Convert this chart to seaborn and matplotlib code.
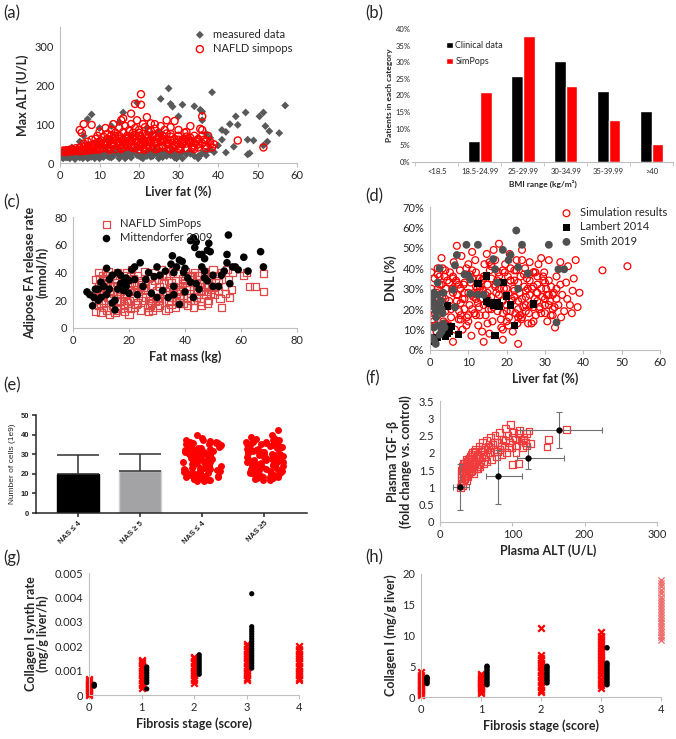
import numpy as np
import pandas as pd
import matplotlib
matplotlib.use('Agg')
import matplotlib.pyplot as plt
import seaborn as sns
from matplotlib.ticker import PercentFormatter

# ---- (a) max ALT vs liver fat ----
a_meas_x = [0.3, 0.5, 0.8, 1, 1.2, 1.5, 2, 2.2, 2.5, 3,
            3.3, 4, 4.5, 5, 5.5, 6, 6.5, 7, 7.5, 8,
            9, 9.5, 10, 11, 11.5, 12, 13, 13.5, 14, 15,
            15.5, 16, 17, 17.5, 18, 19, 19.5, 20, 21, 22,
            22.5, 23, 24, 25, 25.5, 26, 27, 28, 28.5, 29,
            30, 31, 32, 33, 34, 35, 36, 37, 38, 39, 40,
            0.5, 1.5, 2.8, 3.8, 4.8, 5.8, 6.8, 7.8, 8.8, 10.5,
            12.5, 14.5, 16.5, 18.5, 20.5, 23.5, 26.5, 29.5, 32.5, 35.5,
            1, 2, 3, 4, 5, 6, 7, 8, 9, 10,
            11, 12, 13, 14, 15, 16, 17, 18, 19, 20,
            21, 22, 23, 24, 25, 26, 27, 28, 29, 30,
            31, 33, 35, 37,
            3, 5, 6, 7, 8, 10, 12, 13, 15, 16,
            18, 19.5, 21, 22, 23, 25, 25.5, 27.5, 28, 28.5,
            30, 31, 32, 34, 35.5, 36, 36, 37, 38.5, 38,
            41, 41, 42, 42, 43, 44, 44.5, 45, 47, 47.5,
            47.5, 48, 49, 50.5, 51.5, 51.5, 52, 52.5, 53, 55.5, 57]
a_meas_y = [15, 22, 12, 18, 28, 14, 20, 35, 12, 25,
            16, 20, 30, 14, 22, 18, 35, 25, 15, 22,
            30, 18, 25, 15, 35, 22, 28, 18, 40, 20,
            30, 25, 18, 35, 22, 28, 20, 40, 25, 18,
            30, 22, 35, 20, 28, 15, 25, 20, 35, 25,
            18, 28, 22, 30, 18, 12, 25, 20, 35, 28, 45,
            28, 25, 18, 10, 25, 12, 20, 30, 12, 20,
            15, 28, 12, 30, 15, 18, 30, 12, 28, 20,
            30, 14, 22, 26, 18, 28, 12, 16, 24, 12,
            26, 18, 14, 24, 12, 20, 28, 14, 32, 18,
            12, 28, 16, 26, 12, 32, 18, 28, 14, 22,
            12, 24, 18, 30,
            40, 55, 70, 113, 125, 90, 60, 95, 105, 130,
            70, 155, 60, 90, 75, 80, 165, 192, 152, 145,
            120, 150, 60, 146, 137, 132, 110, 75, 182, 65,
            85, 60, 80, 27, 100, 42, 120, 98, 130, 60,
            22, 25, 58, 120, 130, 45, 95, 55, 82, 77, 148]
a_sim_x = [0.3, 0.8, 1.2, 1.6, 2, 2.5, 3, 3.5, 4, 4.5,
           5, 5.5, 6, 6.5, 7, 7.5, 8, 8.5, 9, 9.5,
           5, 5.5, 6, 6.5, 7, 8, 8, 9, 9.5, 10,
           10, 10.5, 11, 11, 11.5, 12, 12, 12.5, 12.5, 13,
           13, 13.5, 13.5, 14, 14, 14.5, 15, 15, 15, 15.5,
           15.5, 16, 16, 16, 16.5, 16.5, 17, 17, 17.5, 17.5,
           18, 18, 18, 18.5, 18.5, 19, 19, 19, 19.5, 19.5,
           20, 20, 20, 20.5, 20.5, 20.5, 21, 21, 21, 21.5,
           21.5, 22, 22, 22, 22.5, 23, 23, 23.5, 23.5, 24,
           24, 24, 24.5, 25, 25, 25.5, 25.5, 26, 26, 26.5,
           27, 27, 27.5, 28, 28, 28.5, 29, 29, 29.5, 30,
           30, 30.5, 31, 31.5, 32, 32, 33, 33, 33.5, 34,
           34.5, 35, 35.5, 36, 36, 36.5, 37, 37.5, 38, 38.5,
           39, 45, 51.5,
           10, 12, 14, 16, 18, 20, 22, 24, 26, 28,
           30, 32, 34, 11, 13, 15, 17, 19, 21, 23,
           25, 27, 29, 31, 33, 35, 37,
           3, 4, 5, 6, 7, 8, 9, 10, 11, 12,
           13, 14, 15, 16, 17, 18, 19, 20, 21, 22,
           23, 24, 25, 26, 27, 28, 29, 30, 31, 32,
           33, 34, 35, 36, 37, 38,
           6, 8, 10, 12, 14, 16, 18, 20, 22, 24,
           26, 28, 30, 32, 34, 36,
           7, 9, 11, 13, 15, 17, 19, 21, 23, 25,
           27, 29, 31, 33, 35,
           9.5, 12.5, 15.5, 18.5, 21.5, 24.5, 27.5, 30.5, 33.5]
a_sim_y = [30, 32, 28, 33, 30, 32, 29, 33, 31, 34,
           30, 33, 31, 35, 32, 36, 33, 38, 35, 40,
           85, 78, 100, 45, 55, 98, 60, 50, 70, 45,
           80, 58, 38, 68, 90, 48, 75, 40, 60, 85,
           52, 100, 42, 65, 78, 55, 90, 45, 70, 110,
           38, 60, 80, 115, 50, 95, 42, 70, 85, 58,
           127, 48, 100, 65, 78, 152, 40, 90, 55, 110,
           70, 45, 85, 177, 150, 62, 100, 38, 75, 52,
           92, 118, 65, 45, 80, 58, 102, 42, 70, 100,
           88, 50, 62, 78, 40, 95, 55, 70, 45, 85,
           110, 60, 48, 75, 92, 40, 108, 62, 52, 85,
           70, 42, 60, 78, 80, 50, 95, 65, 42, 70,
           55, 48, 88, 120, 85, 60, 45, 70, 55, 40,
           48, 58, 40,
           35, 38, 36, 40, 42, 35, 38, 36, 40, 35,
           37, 38, 36, 50, 45, 55, 48, 60, 58, 52,
           65, 50, 45, 55, 58, 62, 38,
           36, 38, 40, 42, 44, 46, 45, 50, 52, 55,
           48, 58, 62, 46, 65, 55, 68, 58, 48, 72,
           62, 55, 66, 58, 50, 68, 45, 60, 52, 62,
           55, 45, 60, 50, 58, 48,
           50, 42, 55, 62, 70, 52, 58, 78, 56, 68,
           62, 58, 48, 68, 52, 70,
           42, 62, 50, 72, 52, 62, 72, 48, 82, 68,
           76, 42, 48, 52, 40,
           35, 34, 36, 38, 34, 36, 37, 35, 38]

# ---- (b) BMI distribution ----
bmi_cats = ['<18.5', '18.5-24.99', '25-29.99', '30-34.99', '35-39.99', '>40']
bmi_clinical = [0.002, 0.062, 0.26, 0.305, 0.215, 0.153]
bmi_simpops = [0.0, 0.21, 0.38, 0.228, 0.126, 0.055]

# ---- (c) adipose FA release vs fat mass ----
c_sim_x = [8, 8, 8.5, 8, 9, 9, 9.5, 10, 10, 10.5,
           11, 11.5, 12, 12, 12.5, 13, 13.5, 14, 14, 14.5,
           15, 15.5, 16, 16, 16.5, 17, 17.5, 18, 18, 18.5,
           19, 19.5, 20, 20, 20.5, 21, 21.5, 22, 22.5, 23,
           23.5, 24, 24.5, 25, 25.5, 26, 26.5, 27, 27.5, 28,
           28.5, 29, 29.5, 30, 30.5, 31, 31.5, 32, 32.5, 33,
           33.5, 34, 34.5, 35, 35.5, 36, 36.5, 37, 37.5, 38,
           38.5, 39, 39.5, 40, 40.5, 41, 41.5, 42, 42.5, 43,
           43.5, 44, 44.5, 45, 45.5, 46, 46, 46.5, 47, 47.5,
           48, 48.5, 49, 49.5, 50, 50.5, 51, 51.5, 52, 52.5,
           53, 53, 54, 54.5, 55, 55.5, 56, 56.5, 57,
           61, 62, 63, 65, 68, 68, 9, 11, 13, 20, 17,
           10, 14, 18, 22, 26, 30, 34, 38, 42, 46, 50,
           12, 16, 20, 24, 28, 32, 36, 40, 44, 48, 52,
           9, 11, 13, 15, 17, 19, 21, 23, 25, 27,
           29, 31, 33, 35, 37, 39, 41, 43, 45, 47, 49, 51,
           10, 12, 14, 16, 18, 20, 22, 24, 26, 28,
           30, 32, 34, 36, 38, 40, 42, 44, 46, 48,
           9.5, 12.5, 15.5, 18.5, 21.5, 24.5, 27.5, 30.5, 33.5, 36.5,
           39.5, 42.5, 45.5, 48.5,
           11, 15, 19, 23, 27, 31, 35, 39, 43, 47]
c_sim_y = [12, 20, 28, 35, 40, 16, 24, 32, 11, 38,
           18, 27, 35, 13, 41, 22, 30, 16, 38, 25,
           11, 33, 20, 40, 28, 14, 36, 23, 31, 12,
           40, 18, 27, 35, 14, 42, 22, 31, 17, 38,
           26, 13, 34, 20, 41, 28, 15, 36, 23, 31,
           13, 40, 19, 27, 35, 16, 42, 24, 32, 13,
           38, 20, 29, 17, 41, 25, 34, 19, 39, 18,
           28, 36, 22, 41, 30, 16, 37, 25, 33, 15,
           40, 22, 30, 38, 19, 27, 16, 35, 41, 24,
           31, 20, 38, 28, 42, 24, 33, 38, 27, 21,
           15, 40, 30, 25, 42, 35, 22, 28, 40,
           38, 40, 30, 30, 39, 26, 22, 34, 10, 10, 26,
           25, 30, 20, 26, 32, 22, 34, 26, 20, 32, 30,
           30, 24, 31, 28, 18, 38, 30, 34, 28, 26, 34,
           30, 15, 26, 36, 19, 24, 33, 18, 29, 12,
           34, 21, 26, 33, 25, 30, 22, 28, 33, 38, 25, 30,
           18, 38, 26, 14, 38, 20, 15, 30, 22, 37,
           15, 38, 14, 30, 22, 33, 38, 22, 40, 18,
           36, 22, 13, 16, 36, 31, 16, 20, 24, 15,
           18, 38, 26, 35,
           24, 30, 20, 28, 20, 30, 22, 32, 20, 30]
c_mitt_x = [5, 6, 7, 7.5, 8, 9, 42, 43, 43.5, 44,
            45, 46, 47, 48, 48.5, 49, 55.5, 55, 55, 61,
            67, 68, 62.5, 59, 57, 53, 50, 47, 45, 43,
            42, 40, 39, 38, 39.5, 37, 35.5, 35, 36, 33,
            30, 29, 31, 24, 27, 21, 22, 19, 17, 16,
            15, 15, 14, 13, 12, 11, 10, 13, 18, 18,
            19, 20, 20, 17, 16, 23, 25, 26, 28, 32,
            34, 36, 38, 40, 41, 44, 46, 47, 48, 50,
            52, 54, 56, 58, 36, 30, 22, 14, 12, 10, 9]
c_mitt_y = [26, 24, 16, 22, 28, 20, 63, 65, 58, 62,
            53, 53, 50, 56, 61, 55, 67, 53, 47, 51,
            55, 44, 41, 42, 44, 38, 30, 36, 28, 22,
            33, 43, 48, 49, 40, 44, 52, 46, 40, 41,
            44, 37, 38, 47, 40, 42, 35, 36, 38, 40,
            20, 13, 18, 28, 43, 30, 22, 35, 27, 33,
            30, 34, 25, 32, 28, 24, 30, 35, 25, 27,
            22, 24, 17, 26, 36, 32, 44, 41, 34, 38,
            30, 41, 32, 44, 30, 22, 44, 38, 24, 33, 28]

# ---- (d) DNL vs liver fat (%) ----
d_sim_x = [0.3, 0.5, 0.7, 0.4, 0.8, 1.2, 1.5, 1.8, 1.3, 2,
           2.2, 2.5, 1.7, 3, 3.2, 3.5, 3.8, 4, 4.2, 4.5,
           3.3, 5, 5.2, 5.5, 5.8, 6, 6.2, 6.5, 5.3, 6.8,
           7, 7.2, 7.5, 7.8, 8, 8.2, 8.5, 8.8, 7.6, 9,
           9.3, 9.6, 10, 10.3, 10.6, 10.8, 9.5, 11, 11.3, 11.6,
           12, 12.3, 12.6, 11.8, 12.8, 13, 13.3, 13.6, 14, 14.2,
           14.5, 13.8, 14.8, 15, 15.3, 15.6, 16, 16.3, 16.6, 16,
           15.5, 17, 17.3, 17.6, 18, 18.3, 18.6, 17.8, 18.8, 19,
           19.3, 19.6, 20, 20.3, 20.6, 19.8, 20.8, 21, 21.3, 21.6,
           22, 22.3, 22.6, 21.8, 22.8, 23, 23.3, 23.6, 24, 24.3,
           24.6, 23.8, 24.8, 25, 25.3, 25.6, 26, 26.3, 26.6, 25.8,
           27, 27.3, 27.6, 28, 28.3, 28.6, 27.8, 29, 29.3, 29.6,
           30, 30.3, 30.6, 29.8, 31, 31.3, 31.6, 32, 32.3, 32.6,
           33, 33.5, 34, 34.5, 35, 35.5, 34.2, 35.8, 36, 36.5,
           37, 37.5, 38, 38.5, 39, 37.2, 45, 51.5,
           4, 6, 8, 10, 12, 14, 16, 18, 20, 22,
           24, 26, 28, 30, 5, 9, 13, 17, 21, 25,
           11, 15, 19, 23, 27, 2, 3, 7, 9, 11,
           13, 15, 17, 19, 21, 23, 25, 27, 29, 31, 33,
           1, 2, 3, 4, 5, 6, 7, 8, 9, 10,
           11, 12, 13, 14, 15, 16, 17, 18, 19, 20,
           21, 22, 23, 24, 25, 26, 27, 28, 29, 30,
           31, 32, 33,
           1.5, 2.5, 3.5, 4.5, 5.5, 6.5, 7.5, 8.5, 9.5, 10.5,
           11.5, 12.5, 13.5, 14.5, 15.5, 16.5, 17.5, 18.5, 19.5, 20.5,
           21.5, 22.5, 23.5, 24.5, 25.5, 26.5, 27.5, 28.5, 29.5, 30.5,
           31.5, 32.5,
           2, 4, 6, 8, 10, 12, 14, 16, 18, 20,
           22, 24, 26, 28, 30, 32, 34,
           3, 7, 11, 15, 19, 23, 27, 31]
d_sim_y = [38, 25, 15, 30, 20, 35, 12, 28, 18, 40,
           22, 32, 9, 45, 26, 14, 36, 19, 30, 8,
           40, 24, 38, 16, 30, 4, 43, 21, 11, 34,
           51, 27, 15, 39, 23, 46, 10, 32, 19, 28,
           37, 16, 42, 22, 33, 7, 12, 48, 26, 18,
           38, 30, 12, 44, 21, 35, 25, 9, 4, 42,
           17, 29, 47, 32, 20, 39, 26, 14, 49, 35,
           8, 44, 28, 19, 52, 33, 11, 38, 24, 5,
           30, 42, 22, 36, 16, 27, 47, 40, 25, 9,
           34, 18, 44, 30, 13, 3, 28, 36, 49, 21,
           31, 15, 40, 26, 35, 13, 43, 22, 30, 18,
           38, 25, 17, 32, 42, 21, 28, 45, 26, 34,
           18, 30, 14, 38, 44, 24, 31, 17, 28, 11,
           36, 22, 43, 27, 19, 33, 16, 25, 41, 22,
           18, 35, 44, 21, 28, 29, 39, 41,
           25, 28, 30, 28, 25, 22, 20, 27, 30, 26,
           25, 27, 24, 25, 33, 20, 17, 23, 19, 22,
           35, 25, 18, 33, 31, 30, 20, 33, 25, 20,
           30, 28, 32, 24, 34, 20, 29, 21, 30, 22, 30,
           14, 17, 32, 39, 12, 36, 27, 17, 33, 14,
           39, 17, 31, 36, 13, 42, 31, 36, 10, 19,
           34, 39, 24, 16, 19, 34, 14, 36, 18, 22,
           34, 27, 25,
           26, 36, 21, 34, 20, 10, 32, 25, 40, 37,
           28, 23, 34, 27, 43, 21, 34, 15, 38, 12,
           24, 39, 17, 37, 30, 13, 38, 20, 36, 27,
           17, 21,
           37, 13, 35, 15, 17, 31, 35, 41, 30, 14,
           29, 44, 37, 28, 33, 20, 32,
           24, 24, 27, 23, 39, 16, 38, 27]
d_lambert_x = [0.5, 1, 1.3, 2, 4, 4.5, 5, 5.5, 7.5, 4.5,
               12.5, 14.8, 14.8, 15.5, 16.5, 17.5, 18, 19, 20, 21,
               22, 17, 27]
d_lambert_y = [6.2, 4.2, 5.5, 6, 6.5, 8, 9, 11.5, 7.5, 21.5,
               32.7, 36.2, 24, 23, 22, 23, 21.5, 33, 26.5, 22,
               12, 7, 22.5]
d_smith_x = [0.3, 0.5, 1, 1.2, 1.5, 1.6, 2, 2, 2.5, 2.5,
             3, 3, 3.3, 3.5, 3.5, 3.8, 1, 2, 2.5, 3,
             1.5, 1, 0.5, 6.5, 7, 6, 6.5, 9.5, 9, 10,
             10.5, 10.5, 12.5, 12.5, 14, 16.5, 17, 17.5, 19, 20.5,
             21, 22.5, 23, 23, 24, 25.5, 31, 33.5, 33, 35]
d_smith_y = [21.5, 25, 28, 23, 19, 16, 33, 27, 40, 22,
             24, 20, 18, 28, 13, 11, 11, 12, 7.5, 9,
             3, 5, 6, 41.5, 46.5, 29.5, 21, 51.5, 37, 36.5,
             34.5, 27.5, 51.5, 27, 27, 44.5, 39.5, 33, 49, 44,
             46.5, 58.5, 40.5, 30, 51.5, 37.5, 51.5, 39.5, 13.5, 39.5]

# ---- (e) number of cells ----
e_labels = ['NAS \u2264 4', 'NAS \u2265 5', 'NAS \u2264 4', 'NAS \u22655']
e_clin_mean = [20.0, 21.5]
e_clin_sd = [9.5, 8.5]
e_sim_le4 = [16.4, 16.8, 17.2, 17.9, 18.5, 19.1, 19.8, 20.3, 20.9, 21.6,
             22.2, 22.8, 23.4, 24.1, 24.7, 25.3, 25.9, 26.5, 27.2, 27.8,
             28.4, 29.0, 29.7, 30.3, 30.9, 31.5, 32.2, 32.8, 33.4, 34.0,
             34.7, 35.3, 35.9, 36.4, 16.6, 18.2, 20.6, 23.1, 25.6, 28.1,
             30.6, 33.1, 35.6, 17.5, 19.5, 21.9, 24.4, 26.8, 29.3, 31.8,
             34.3, 36.2, 37.0, 37.5, 38.3, 40.0, 22.5, 27.5, 32.5, 36.6,
             16.5, 17.0, 18.0, 19.0, 20.0, 21.0, 22.0, 23.0, 24.0, 25.0,
             26.0, 27.0, 28.0, 29.0, 30.0, 31.0, 32.0, 33.0, 34.0, 35.0,
             36.0, 16.9, 19.4, 21.4, 24.6, 26.2, 29.5, 31.2, 33.7, 35.5]
e_sim_ge5 = [17.8, 18.3, 18.9, 19.6, 20.2, 20.8, 21.5, 22.1, 22.7, 23.4,
             24.0, 24.6, 25.3, 25.9, 26.5, 27.2, 27.8, 28.4, 29.1, 29.7,
             30.3, 31.0, 31.6, 32.2, 32.9, 33.5, 34.1, 34.8, 35.4, 36.0,
             36.6, 37.1, 16.8, 17.0, 17.5, 18.6, 21.2, 23.7, 26.2, 28.7,
             31.3, 33.8, 36.3, 19.2, 22.4, 25.0, 27.5, 30.0, 32.5, 35.1,
             37.5, 38.0, 38.5, 39.0, 40.0, 42.5, 24.3, 29.4, 34.5, 20.5,
             18.0, 19.0, 20.0, 21.0, 22.0, 23.0, 24.0, 25.0, 26.0, 27.0,
             28.0, 29.0, 30.0, 31.0, 32.0, 33.0, 34.0, 35.0, 36.0, 37.0,
             18.4, 20.9, 23.2, 25.6, 28.2, 30.7, 33.2, 35.8, 36.8, 19.7]

# ---- (f) plasma TGF-beta vs ALT ----
f_sim_alt = [28, 29, 30, 31, 32, 30, 33, 34, 35, 36,
             37, 38, 39, 40, 41, 42, 43, 44, 45, 46,
             47, 48, 49, 50, 52, 53, 54, 55, 56, 58,
             59, 60, 62, 63, 64, 65, 67, 68, 70, 71,
             73, 75, 76, 78, 80, 82, 83, 85, 87, 89,
             90, 92, 94, 96, 97, 99, 100, 102, 104, 106,
             108, 109, 110, 112, 114, 116, 118, 120, 123, 125,
             148, 150, 175, 33, 35, 36, 38, 40, 42, 44,
             46, 48, 50, 52, 55, 58, 60, 65, 70, 75,
             80, 85, 90, 95, 100, 105, 115, 120, 31, 34, 37, 39,
             29, 30, 31, 32, 33, 34, 35, 36, 37, 38,
             39, 40, 41, 42, 43, 44, 45, 47, 49, 51, 53]
f_sim_tgf = [1.0, 1.1, 1.2, 1.05, 1.3, 1.4, 1.5, 1.25, 1.6, 1.4,
             1.7, 1.55, 1.8, 1.45, 1.65, 1.9, 1.75, 1.5, 2.0, 1.6,
             1.85, 1.7, 2.1, 1.55, 1.95, 1.75, 2.2, 1.6, 2.05, 1.85,
             2.3, 1.7, 2.1, 1.9, 2.35, 1.75, 2.2, 2.0, 2.45, 1.8,
             2.25, 2.05, 2.5, 1.9, 2.3, 2.6, 2.1, 1.95, 2.4, 2.2,
             2.7, 2.0, 2.5, 2.3, 2.82, 2.15, 1.67, 2.6, 2.4, 2.2,
             1.7, 2.55, 2.65, 2.35, 2.15, 2.45, 2.3, 2.55, 2.63, 2.27,
             2.17, 2.38, 2.67, 1.2, 1.35, 1.8, 1.3, 1.75, 1.55, 1.95,
             1.4, 2.05, 1.85, 1.55, 1.9, 2.1, 1.95, 2.1, 2.15, 2.3,
             2.05, 2.2, 2.35, 2.15, 2.45, 2.0, 2.4, 2.2, 1.5, 1.7, 1.2, 1.6,
             1.3, 1.5, 1.6, 1.45, 1.7, 1.55, 1.45, 1.65, 1.5, 1.75,
             1.4, 1.6, 1.85, 1.45, 1.6, 1.8, 1.7, 1.55, 1.75, 1.9, 1.65]
f_obs_alt = [28, 80, 122, 164]
f_obs_tgf = [1.0, 1.33, 1.86, 2.66]
f_obs_alt_lo = [17.5, 64, 106, 110]
f_obs_alt_hi = [40.5, 113, 171, 224]
f_obs_tgf_lo = [0.34, 0.53, 1.52, 2.13]
f_obs_tgf_hi = [1.67, 2.08, 2.2, 3.17]

# ---- (g) collagen I synthesis rate by fibrosis stage ----
g_sim_stage = [0] * 9 + [1] * 13 + [2] * 12 + [3] * 16 + [4] * 15
g_sim_rate = [0.00002, 0.0001, 0.00018, 0.00026, 0.00034, 0.00042, 0.0005, 0.00058, 0.00065,
              0.0003, 0.0004, 0.0005, 0.0006, 0.0007, 0.0008, 0.0009, 0.001, 0.0011, 0.0012,
              0.0013, 0.00138, 0.00145,
              0.0005, 0.0006, 0.0007, 0.0008, 0.0009, 0.001, 0.0011, 0.0012, 0.0013, 0.0014,
              0.0015, 0.00155,
              0.0006, 0.0007, 0.0008, 0.0009, 0.001, 0.0011, 0.0012, 0.0013, 0.0014, 0.0015,
              0.0016, 0.0017, 0.0018, 0.0019, 0.002, 0.0021,
              0.0006, 0.0007, 0.0008, 0.0009, 0.001, 0.0011, 0.0012, 0.0013, 0.0014, 0.0015,
              0.0016, 0.0017, 0.0018, 0.0019, 0.002]
g_obs_stage = [0] * 3 + [1] * 9 + [2] * 9 + [3] * 19
g_obs_rate = [0.00036, 0.0004, 0.00044,
              0.00025, 0.0005, 0.0006, 0.0007, 0.0008, 0.0009, 0.001, 0.00108, 0.00115,
              0.00085, 0.00095, 0.00105, 0.00115, 0.00125, 0.00135, 0.00145, 0.00155, 0.00165,
              0.0011, 0.0012, 0.0013, 0.0014, 0.0015, 0.0016, 0.0017, 0.0018, 0.0019, 0.002,
              0.0021, 0.0022, 0.0023, 0.0024, 0.0025, 0.0026, 0.0027, 0.0028, 0.00415]

# ---- (h) collagen I content by fibrosis stage ----
h_sim_stage = [0] * 13 + [1] * 11 + [2] * 17 + [3] * 19
h_sim_coll = [0.3, 0.6, 0.9, 1.2, 1.5, 1.8, 2.1, 2.4, 2.7, 3.0, 3.3, 3.6, 4.0,
              0.7, 1.0, 1.3, 1.6, 1.9, 2.2, 2.5, 2.8, 3.1, 3.4, 3.8,
              0.8, 1.2, 1.6, 2.0, 2.4, 2.8, 3.2, 3.6, 4.0, 4.4, 4.8, 5.2, 5.6, 6.0, 6.4, 6.8, 11.3,
              1.5, 2.0, 2.5, 3.0, 3.5, 4.0, 4.5, 5.0, 5.5, 6.0, 6.5, 7.0, 7.5, 8.0, 8.5, 9.0,
              9.5, 10.0, 10.5]
h_sim4_coll = [9.3, 9.7, 10.1, 10.6, 11.0, 11.5, 12.0, 12.4, 12.9, 13.3,
               13.8, 14.3, 14.8, 15.3, 15.8, 16.3, 16.9, 17.4, 18.0, 18.5, 19.0]
h_obs_stage = [0] * 5 + [1] * 9 + [2] * 8 + [3] * 11
h_obs_coll = [2.2, 2.5, 2.8, 3.0, 3.2,
              2.0, 2.4, 2.8, 3.2, 3.6, 4.0, 4.4, 4.8, 5.0,
              2.3, 2.7, 3.1, 3.5, 3.9, 4.3, 4.7, 5.0,
              2.0, 2.4, 2.8, 3.2, 3.6, 4.0, 4.4, 4.8, 5.2, 5.5, 8.0]

sns.set_style('ticks')
plt.rcParams['font.family'] = ['Lato', 'DejaVu Sans']
np.random.seed(3)

GREY = '#BFBFBF'
TXT = '#262626'
RED = '#FF0000'

fig = plt.figure(figsize=(6.76, 7.39), dpi=100)


def panel(l, t, r, b):
    return fig.add_axes([l / 676, 1 - b / 739, (r - l) / 676, (b - t) / 739])


def excel_style(ax, xlim, xticks, ylim, yticks, fs=8):
    ax.set_xlim(xlim)
    ax.set_ylim(ylim)
    ax.set_xticks(xticks)
    ax.set_yticks(yticks)
    sns.despine(ax=ax)
    for s in ('left', 'bottom'):
        ax.spines[s].set_color(GREY)
        ax.spines[s].set_linewidth(0.8)
    ax.tick_params(axis='both', labelsize=fs, labelcolor=TXT, color=GREY,
                   length=3, width=0.8, pad=2)
    ax.tick_params(axis='y', length=0, pad=4)


def tag(x, y, s):
    fig.text(x / 676, 1 - y / 739, s, fontsize=12, va='center', ha='left')


lab = dict(fontsize=9, fontweight='bold', color=TXT)

# (a)
ax = panel(60, 27, 297, 163)
sns.scatterplot(x=a_meas_x, y=a_meas_y, marker='D', s=16, color='#595959',
                edgecolor='none', ax=ax, label='measured data')
sns.scatterplot(x=a_sim_x, y=a_sim_y, marker='o', s=26, facecolor='none',
                edgecolor=RED, linewidth=1.0, ax=ax, label='NAFLD simpops')
excel_style(ax, (0, 60), range(0, 61, 10), (0, 350), [0, 100, 200, 300])
ax.set_xlabel('Liver fat (%)', labelpad=3, **lab)
ax.set_ylabel('Max ALT (U/L)', labelpad=4, **lab)
ax.legend(loc='upper right', bbox_to_anchor=(1.0, 1.02), frameon=False,
          fontsize=8, handletextpad=0.2, borderaxespad=0, labelspacing=0.3,
          markerscale=1.0)
tag(3, 13, '(a)')

# (b)
ax = panel(412, 29, 673, 162)
df_b = pd.DataFrame({'BMI': bmi_cats * 2,
                     'frac': bmi_clinical + bmi_simpops,
                     'src': ['Clinical data'] * 6 + ['SimPops'] * 6})
sns.barplot(data=df_b, x='BMI', y='frac', hue='src', palette=['black', RED],
            width=0.55, saturation=1, ax=ax)
ax.set_xlim(-0.58, 5.45)
ax.set_ylim(0, 0.4)
ax.set_yticks(np.arange(0, 0.41, 0.05))
ax.yaxis.set_major_formatter(PercentFormatter(1, decimals=0))
sns.despine(ax=ax, left=True)
ax.spines['bottom'].set_color(GREY)
ax.set_xticks(np.arange(-0.5, 5.6, 1), minor=True)
ax.tick_params(axis='x', which='major', length=0, labelsize=5.5, labelcolor=TXT, pad=4)
ax.tick_params(axis='x', which='minor', length=3, color=GREY)
ax.tick_params(axis='y', length=0, labelsize=5.5, labelcolor=TXT, pad=1)
ax.set_xlabel('BMI range (kg/m\u00b2)', fontsize=6, fontweight='bold', color=TXT, labelpad=4)
ax.set_ylabel('Patients in each category', fontsize=6, fontweight='bold', color=TXT, labelpad=2)
ax.legend(loc='upper left', bbox_to_anchor=(0.1, 0.97), frameon=False, fontsize=6.5,
          handlelength=0.7, handleheight=0.7, handletextpad=0.3, labelspacing=0.8)
tag(365, 13, '(b)')

# (c)
ax = panel(73, 217, 297, 328)
sns.scatterplot(x=c_sim_x, y=c_sim_y, marker='s', s=26, facecolor='none',
                edgecolor='#E04848', linewidth=0.9, ax=ax, label='NAFLD SimPops')
sns.scatterplot(x=c_mitt_x, y=c_mitt_y, marker='o', s=30, color='black',
                edgecolor='none', ax=ax, label='Mittendorfer 2009')
excel_style(ax, (0, 80), [0, 20, 40, 60, 80], (0, 80), [0, 20, 40, 60, 80])
ax.set_xlabel('Fat mass (kg)', labelpad=3, **lab)
ax.set_ylabel('Adipose FA release rate\n(mmol/h)', labelpad=4, linespacing=1.0, **lab)
ax.legend(loc='upper left', bbox_to_anchor=(0.08, 1.03), frameon=False, fontsize=8,
          handletextpad=0.2, borderaxespad=0, labelspacing=0.3)
tag(3, 202, '(c)')

# (d)
ax = panel(430, 207, 660, 350)
sns.scatterplot(x=d_sim_x, y=d_sim_y, marker='o', s=24, facecolor='none',
                edgecolor=RED, linewidth=0.9, ax=ax, label='Simulation results')
sns.scatterplot(x=d_lambert_x, y=d_lambert_y, marker='s', s=28, color='black',
                edgecolor='none', ax=ax, label='Lambert 2014')
sns.scatterplot(x=d_smith_x, y=d_smith_y, marker='o', s=32, color='#505050',
                edgecolor='none', ax=ax, label='Smith 2019')
excel_style(ax, (0, 60), range(0, 61, 10), (0, 70), range(0, 71, 10))
ax.yaxis.set_major_formatter(PercentFormatter(100, decimals=0))
ax.set_xlabel('Liver fat (%)', labelpad=3, **lab)
ax.set_ylabel('DNL (%)', labelpad=4, **lab)
ax.legend(loc='upper right', bbox_to_anchor=(1.05, 1.03), frameon=False, fontsize=8,
          handletextpad=0.2, borderaxespad=0, labelspacing=0.3)
tag(365, 196, '(d)')

# (e)
ax = panel(36, 415, 307, 513)
ax.bar([0, 1], e_clin_mean, width=0.68, color=['black', '#A3A3A6'],
       edgecolor=['black', '#CFCFD2'], linewidth=1)
ax.errorbar([0, 1], e_clin_mean, yerr=[[0, 0], e_clin_sd], fmt='none',
            ecolor='#303030', elinewidth=1.1, capsize=15, capthick=1.1)
df_e = pd.DataFrame({'grp': [2] * len(e_sim_le4) + [3] * len(e_sim_ge5),
                     'cells': e_sim_le4 + e_sim_ge5})
sns.stripplot(data=df_e, x='grp', y='cells', native_scale=True, jitter=0.32,
              color=RED, size=5, linewidth=0, ax=ax)
ax.set_xlim(-0.68, 3.69)
ax.set_ylim(0, 50)
ax.set_yticks(range(0, 51, 10))
ax.set_xticks([0, 1, 2, 3])
ax.set_xticklabels(e_labels, rotation=45, ha='right', rotation_mode='anchor')
sns.despine(ax=ax)
for s in ('left', 'bottom'):
    ax.spines[s].set_linewidth(1.1)
ax.tick_params(axis='both', labelsize=5.5, width=1.1, length=3, pad=2)
for t in ax.get_xticklabels() + ax.get_yticklabels():
    t.set_fontweight('bold')
    t.set_family(['Liberation Sans', 'DejaVu Sans'])
ax.set_xlabel('')
ax.set_ylabel('Number of cells (1e9)', fontsize=6, family=['Liberation Sans', 'DejaVu Sans'],
              labelpad=3)
tag(3, 385, '(e)')

# (f)
ax = panel(440, 401, 657, 522)
sns.scatterplot(x=f_sim_alt, y=f_sim_tgf, marker='s', s=24, facecolor='none',
                edgecolor='#F03C3C', linewidth=0.9, ax=ax)
xe = [np.subtract(f_obs_alt, f_obs_alt_lo), np.subtract(f_obs_alt_hi, f_obs_alt)]
ye = [np.subtract(f_obs_tgf, f_obs_tgf_lo), np.subtract(f_obs_tgf_hi, f_obs_tgf)]
ax.errorbar(f_obs_alt, f_obs_tgf, xerr=xe, yerr=ye, fmt='o', color='black',
            ms=3.5, ecolor='#707070', elinewidth=0.8, capsize=2, capthick=0.8)
excel_style(ax, (0, 300), [0, 100, 200, 300], (0, 3.5), np.arange(0, 3.6, 0.5))
ax.set_yticklabels(['0', '0.5', '1', '1.5', '2', '2.5', '3', '3.5'])
ax.set_xlabel('Plasma ALT (U/L)', labelpad=3, **lab)
ax.set_ylabel('Plasma TGF -\u03b2\n(fold change vs. control)', labelpad=5,
              linespacing=1.0, **lab)
tag(365, 378, '(f)')

# (g)
ax = panel(89, 573, 299, 695)
sns.scatterplot(x=g_sim_stage, y=g_sim_rate, marker='x', s=22, color=RED,
                linewidth=1.6, ax=ax)
sns.scatterplot(x=np.add(g_obs_stage, 0.1), y=g_obs_rate, marker='o', s=14,
                color='black', edgecolor='none', ax=ax)
excel_style(ax, (0, 4), [0, 1, 2, 3, 4], (0, 0.005),
            [0, 0.001, 0.002, 0.003, 0.004, 0.005])
ax.set_yticklabels(['0', '0.001', '0.002', '0.003', '0.004', '0.005'])
ax.set_xlabel('Fibrosis stage (score)', labelpad=3, **lab)
ax.set_ylabel('Collagen I synth rate\n(mg/g liver/h)', labelpad=4, linespacing=1.0, **lab)
for c in ax.collections:
    c.set_clip_on(False)
tag(3, 558, '(g)')

# (h)
ax = panel(421, 574, 661, 697)
sns.scatterplot(x=h_sim_stage, y=h_sim_coll, marker='x', s=22, color=RED,
                linewidth=1.6, ax=ax)
sns.scatterplot(x=[4] * len(h_sim4_coll), y=h_sim4_coll, marker='x', s=20,
                color='#F07070', linewidth=1.0, ax=ax)
sns.scatterplot(x=np.add(h_obs_stage, 0.1), y=h_obs_coll, marker='o', s=16,
                color='black', edgecolor='none', ax=ax)
excel_style(ax, (0, 4), [0, 1, 2, 3, 4], (0, 20), [0, 5, 10, 15, 20])
ax.set_xlabel('Fibrosis stage (score)', labelpad=3, **lab)
ax.set_ylabel('Collagen I (mg/g liver)', labelpad=4, **lab)
for c in ax.collections:
    c.set_clip_on(False)
tag(365, 557, '(h)')

fig.savefig('out.png', dpi=100)
